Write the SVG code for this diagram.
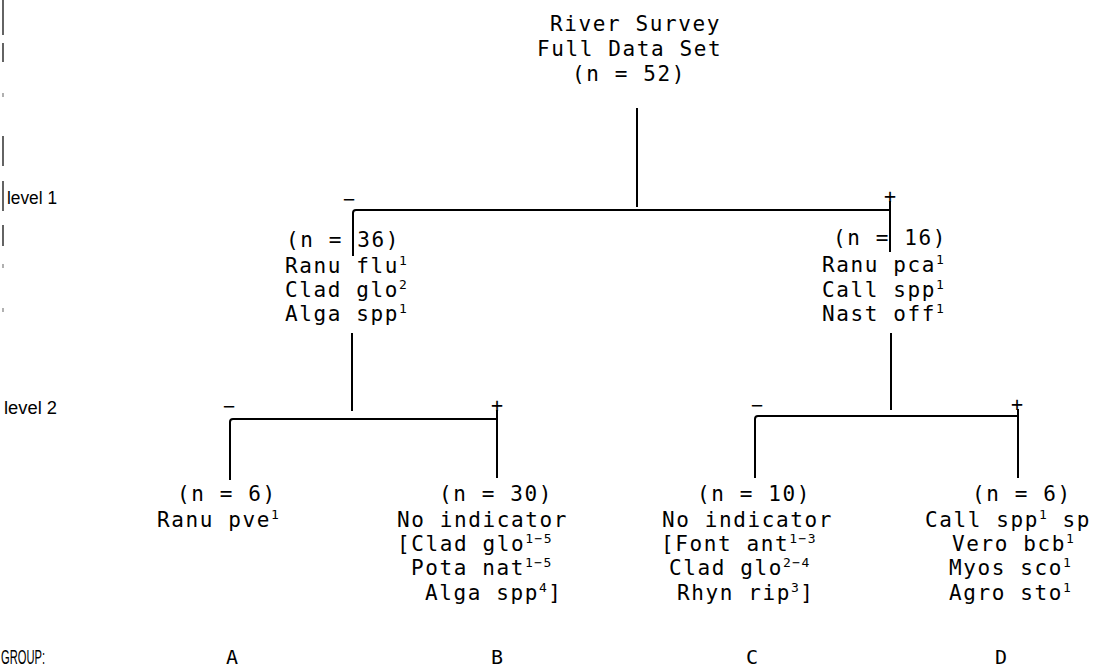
<svg xmlns="http://www.w3.org/2000/svg" width="1110" height="670" viewBox="0 0 1110 670">
  <style>
    .t { font-family: "DejaVu Sans Mono", "Liberation Mono", monospace; font-size: 21px; letter-spacing: 1.6px; fill: #000; }
    .sup { font-size: 13px; letter-spacing: 1.5px; }
    .sign { font-family: "DejaVu Sans Mono", monospace; font-size: 20px; fill: #000; text-anchor: middle; }
    .lab { font-family: "Liberation Sans", "DejaVu Sans", sans-serif; font-size: 18px; fill: #000; }
    .lab-big { font-family: "Liberation Sans", "DejaVu Sans", sans-serif; font-size: 20px; fill: #000; }
    .grp { font-family: "DejaVu Sans Mono", monospace; font-size: 20px; fill: #000; text-anchor: middle; }
    .edge { fill: none; stroke: #000; stroke-width: 2; }
    .tick { stroke: #222; stroke-width: 1.4; }
  </style>
  <rect width="1110" height="670" fill="#fff"/>

  <!-- margin ticks along the left edge -->
  <g id="margin">
    <line class="tick" x1="3" y1="0" x2="3" y2="35"/>
    <line class="tick" x1="3" y1="43" x2="3" y2="62"/>
    <line class="tick" x1="3" y1="93" x2="3" y2="97" stroke-opacity="0.5"/>
    <line class="tick" x1="3" y1="136" x2="3" y2="166"/>
    <line class="tick" x1="3" y1="181" x2="3" y2="211"/>
    <line class="tick" x1="3" y1="225" x2="3" y2="246"/>
    <line class="tick" x1="3" y1="264" x2="3" y2="268" stroke-opacity="0.5"/>
    <line class="tick" x1="3" y1="308" x2="3" y2="312" stroke-opacity="0.5"/>
  </g>

  <!-- level labels -->
  <g id="levels">
    <text class="lab" x="7" y="204" textLength="50" lengthAdjust="spacingAndGlyphs">level 1</text>
    <text class="lab" x="4" y="414" textLength="53" lengthAdjust="spacingAndGlyphs">level 2</text>
    <text class="lab-big" x="1" y="664" textLength="44" lengthAdjust="spacingAndGlyphs">GROUP:</text>
  </g>

  <!-- connectors -->
  <g id="connectors">
    <path class="edge" d="M637,108 V207"/>
    <path class="edge" d="M353,256 V213 Q353,210 356,210 H890"/>
    <path class="edge" d="M890,201 V252"/>
    <path class="edge" d="M352,333 V411"/>
    <path class="edge" d="M230,480 V422 Q230,419 233,419 H498"/>
    <path class="edge" d="M497,410 V478"/>
    <path class="edge" d="M891,333 V410"/>
    <path class="edge" d="M755,478 V419 Q755,416 758,416 H1019"/>
    <path class="edge" d="M1018,409 V478"/>
    <text class="sign" x="349" y="206">−</text>
    <text class="sign" x="890" y="203">+</text>
    <text class="sign" x="229" y="413">−</text>
    <text class="sign" x="497" y="412">+</text>
    <text class="sign" x="757" y="412">−</text>
    <text class="sign" x="1017" y="411">+</text>
  </g>

  <!-- root -->
  <g id="root">
    <text class="t" x="550" y="31">River Survey</text>
    <text class="t" x="537" y="56">Full Data Set</text>
    <text class="t" x="572" y="81">(n = 52)</text>
  </g>

  <!-- level 1 nodes -->
  <g id="node-minus">
    <text class="t" x="286" y="247">(n = 36)</text>
    <text class="t" x="285" y="273">Ranu flu<tspan class="sup" dy="-8">1</tspan></text>
    <text class="t" x="285" y="297">Clad glo<tspan class="sup" dy="-8">2</tspan></text>
    <text class="t" x="285" y="321">Alga spp<tspan class="sup" dy="-8">1</tspan></text>
  </g>
  <g id="node-plus">
    <text class="t" x="833" y="245">(n = 16)</text>
    <text class="t" x="822" y="272">Ranu pca<tspan class="sup" dy="-8">1</tspan></text>
    <text class="t" x="822" y="297">Call spp<tspan class="sup" dy="-8">1</tspan></text>
    <text class="t" x="822" y="321">Nast off<tspan class="sup" dy="-8">1</tspan></text>
  </g>

  <!-- level 2 nodes -->
  <g id="group-a">
    <text class="t" x="177" y="501">(n = 6)</text>
    <text class="t" x="157" y="527">Ranu pve<tspan class="sup" dy="-8">1</tspan></text>
    <text class="grp" x="232" y="664">A</text>
  </g>
  <g id="group-b">
    <text class="t" x="439" y="501">(n = 30)</text>
    <text class="t" x="397" y="527">No indicator</text>
    <text class="t" x="397" y="551">[Clad glo<tspan class="sup" dy="-8">1−5</tspan></text>
    <text class="t" x="411" y="575">Pota nat<tspan class="sup" dy="-8">1−5</tspan></text>
    <text class="t" x="425" y="600">Alga spp<tspan class="sup" dy="-8">4</tspan><tspan dy="8">]</tspan></text>
    <text class="grp" x="497" y="664">B</text>
  </g>
  <g id="group-c">
    <text class="t" x="697" y="501">(n = 10)</text>
    <text class="t" x="662" y="527">No indicator</text>
    <text class="t" x="661" y="551">[Font ant<tspan class="sup" dy="-8">1−3</tspan></text>
    <text class="t" x="669" y="575">Clad glo<tspan class="sup" dy="-8">2−4</tspan></text>
    <text class="t" x="677" y="600">Rhyn rip<tspan class="sup" dy="-8">3</tspan><tspan dy="8">]</tspan></text>
    <text class="grp" x="752" y="664">C</text>
  </g>
  <g id="group-d">
    <text class="t" x="972" y="501">(n = 6)</text>
    <text class="t" x="925" y="527">Call spp<tspan class="sup" dy="-8">1</tspan><tspan dy="8"> sp</tspan></text>
    <text class="t" x="952" y="551">Vero bcb<tspan class="sup" dy="-8">1</tspan></text>
    <text class="t" x="949" y="575">Myos sco<tspan class="sup" dy="-8">1</tspan></text>
    <text class="t" x="949" y="600">Agro sto<tspan class="sup" dy="-8">1</tspan></text>
    <text class="grp" x="1001" y="664">D</text>
  </g>
</svg>
